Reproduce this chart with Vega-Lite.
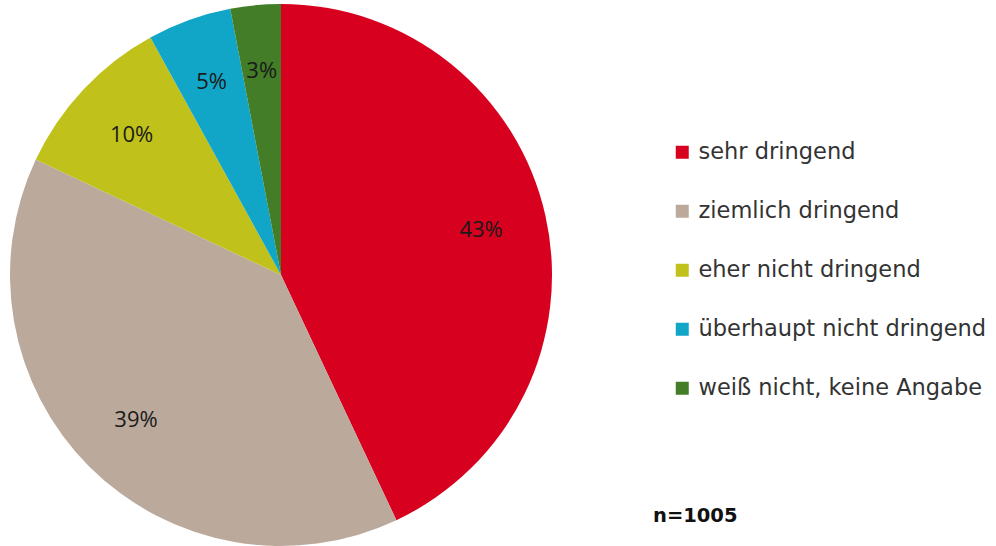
{
  "$schema": "https://vega.github.io/schema/vega-lite/v6.json",
  "width": 562,
  "height": 550,
  "autosize": "none",
  "padding": {"left": 0, "top": 0, "right": 434, "bottom": 0},
  "background": "white",
  "config": {"view": {"stroke": null}},
  "title": {
    "text": "n=1005",
    "orient": "bottom",
    "anchor": "start",
    "frame": "group",
    "dx": 653,
    "dy": -47,
    "font": "DejaVu Sans",
    "fontSize": 19.5,
    "fontWeight": "bold",
    "color": "#111111"
  },
  "data": {
    "values": [
      {"category": "sehr dringend", "value": 43, "label": "43%", "order": 1},
      {"category": "ziemlich dringend", "value": 39, "label": "39%", "order": 2},
      {"category": "eher nicht dringend", "value": 10, "label": "10%", "order": 3},
      {"category": "überhaupt nicht dringend", "value": 5, "label": "5%", "order": 4},
      {"category": "weiß nicht, keine Angabe", "value": 3, "label": "3%", "order": 5}
    ]
  },
  "encoding": {
    "theta": {"field": "value", "type": "quantitative", "stack": true},
    "order": {"field": "order", "type": "quantitative"}
  },
  "layer": [
    {
      "mark": {"type": "arc", "radius": 271},
      "encoding": {
        "color": {
          "field": "category",
          "type": "nominal",
          "sort": ["sehr dringend", "ziemlich dringend", "eher nicht dringend", "überhaupt nicht dringend", "weiß nicht, keine Angabe"],
          "scale": {
            "domain": ["sehr dringend", "ziemlich dringend", "eher nicht dringend", "überhaupt nicht dringend", "weiß nicht, keine Angabe"],
            "range": ["#D7001E", "#BBAA9C", "#C0C21B", "#11A6C7", "#437D27"]
          },
          "legend": {
            "orient": "none",
            "legendX": 671,
            "legendY": 141,
            "title": null,
            "symbolType": "square",
            "symbolSize": 169,
            "symbolStrokeWidth": 0,
            "labelFont": "DejaVu Sans",
            "labelFontSize": 22.5,
            "labelColor": "#333333",
            "labelOffset": 5,
            "labelLimit": 400,
            "rowPadding": 36
          }
        }
      }
    },
    {
      "mark": {"type": "text", "radius": 205, "font": "Open Sans", "fontSize": 22, "color": "#1a1a1a"},
      "encoding": {
        "text": {"field": "label", "type": "nominal"}
      }
    }
  ]
}
